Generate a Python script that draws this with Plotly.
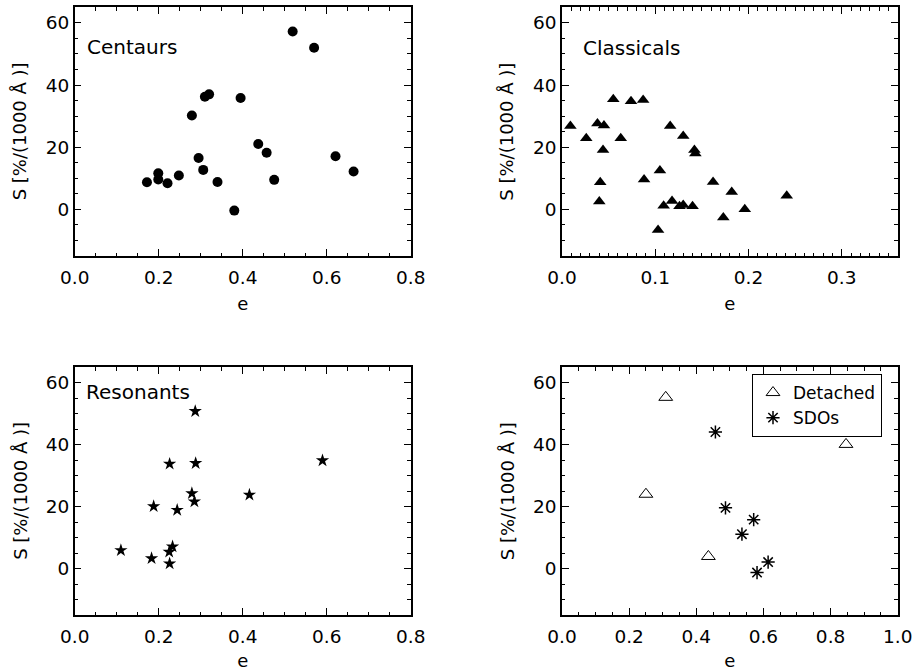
import plotly.graph_objects as go

# ---- data ----
cen_e = [0.172, 0.199, 0.199, 0.221, 0.248, 0.279, 0.295, 0.306, 0.310, 0.320,
         0.340, 0.380, 0.395, 0.437, 0.457, 0.475, 0.519, 0.570, 0.621, 0.664]
cen_s = [8.7, 11.6, 9.6, 8.4, 10.9, 30.2, 16.5, 12.7, 36.2, 37.0,
         8.8, -0.4, 35.8, 21.0, 18.2, 9.5, 57.2, 52.0, 17.1, 12.2]

cla_e = [0.009, 0.026, 0.038, 0.045, 0.044, 0.041, 0.040, 0.055, 0.063, 0.074,
         0.087, 0.088, 0.105, 0.103, 0.109, 0.116, 0.118, 0.126, 0.130, 0.130,
         0.140, 0.142, 0.143, 0.162, 0.173, 0.182, 0.196, 0.241]
cla_s = [26.8, 22.9, 27.6, 27.0, 19.1, 8.7, 2.5, 35.4, 22.9, 34.8,
         35.2, 9.6, 12.5, -6.6, 1.2, 26.8, 2.7, 1.0, 23.6, 1.4,
         1.0, 19.1, 18.0, 8.8, -2.6, 5.6, 0.0, 4.4]

res_e = [0.110, 0.183, 0.188, 0.226, 0.225, 0.233, 0.226, 0.244, 0.279, 0.285,
         0.287, 0.288, 0.416, 0.590]
res_s = [5.9, 3.3, 20.1, 33.8, 5.4, 7.1, 1.6, 18.9, 24.3, 21.6,
         50.8, 34.0, 23.8, 34.9]

det_e = [0.250, 0.309, 0.436, 0.846]
det_s = [24.0, 55.3, 3.9, 40.1]

sdo_e = [0.457, 0.487, 0.536, 0.571, 0.581, 0.614]
sdo_s = [44.1, 19.6, 11.1, 15.8, -1.3, 2.1]

panel_labels = ["Centaurs", "Classicals", "Resonants"]
x_title = "e"
y_title = "S [%/(1000 Å )]"

FONT = "DejaVu Sans"
W, H = 912, 671

fig = go.Figure()

fig.add_trace(go.Scatter(x=cen_e, y=cen_s, mode="markers", name="Centaurs",
                         marker=dict(symbol="circle", size=10, color="black"),
                         xaxis="x", yaxis="y", showlegend=False))
fig.add_trace(go.Scatter(x=cla_e, y=cla_s, mode="markers", name="Classicals",
                         marker=dict(symbol="triangle-up", size=11, color="black"),
                         xaxis="x2", yaxis="y2", showlegend=False))
fig.add_trace(go.Scatter(x=res_e, y=res_s, mode="markers", name="Resonants",
                         marker=dict(symbol="star", size=10, color="black"),
                         xaxis="x3", yaxis="y3", showlegend=False))
fig.add_trace(go.Scatter(x=det_e, y=det_s, mode="markers", name="Detached",
                         marker=dict(symbol="triangle-up-open", size=12, color="black",
                                     line=dict(width=1, color="black")),
                         xaxis="x4", yaxis="y4"))
fig.add_trace(go.Scatter(x=sdo_e, y=sdo_s, mode="markers", name="SDOs",
                         marker=dict(symbol="asterisk-open", size=11, color="black",
                                     line=dict(width=1.5, color="black")),
                         xaxis="x4", yaxis="y4"))

# pixel boxes of the four plot areas (left, right, top, bottom)
boxes = [(74.7, 410.7, 7.3, 256.0),
         (562.0, 897.7, 7.3, 256.0),
         (74.7, 410.7, 367.3, 615.0),
         (562.0, 897.7, 367.3, 615.0)]
xranges = [[0, 0.8], [0, 0.36], [0, 0.8], [0, 1.0]]
xdticks = [0.2, 0.1, 0.2, 0.2]
xminor = [0.05, 0.01, 0.05, 0.05]

tick_font = dict(family=FONT, size=18.5, color="black")
title_font = dict(family=FONT, size=18, color="black")

layout = dict(width=W, height=H, margin=dict(l=0, r=0, t=0, b=0, autoexpand=False),
              paper_bgcolor="white", plot_bgcolor="white",
              font=dict(family=FONT, color="black"))

for i, (l, r, t, b) in enumerate(boxes):
    sfx = "" if i == 0 else str(i + 1)
    xd = [l / W, r / W]
    yd = [1 - b / H, 1 - t / H]
    common = dict(showline=True, linewidth=1.5, linecolor="black", mirror="ticks",
                  ticks="inside", ticklen=7, tickwidth=1.3, tickcolor="black",
                  showgrid=False, zeroline=False, tickfont=tick_font, automargin=False)
    layout["xaxis" + sfx] = dict(common, domain=xd, range=xranges[i], dtick=xdticks[i],
                                 tick0=0, tickformat=".1f", ticklabelstandoff=4,
                                 ticklabeloverflow="allow",
                                 anchor="y" + sfx,
                                 minor=dict(dtick=xminor[i], ticks="inside", ticklen=3.5,
                                            tickwidth=1.1, tickcolor="black", showgrid=False),
                                 title=dict(text=x_title, font=title_font, standoff=10))
    layout["yaxis" + sfx] = dict(common, domain=yd, range=[-15, 65], dtick=20, tick0=0,
                                 anchor="x" + sfx,
                                 minor=dict(dtick=5, ticks="inside", ticklen=3.5,
                                            tickwidth=1.1, tickcolor="black", showgrid=False))

layout["legend"] = dict(x=882 / W, y=1 - 374 / H, xanchor="right", yanchor="top",
                        bgcolor="rgba(255,255,255,0)", bordercolor="black", borderwidth=1,
                        font=dict(family=FONT, size=17, color="black"),
                        tracegroupgap=0, itemwidth=30)

fig.update_layout(**layout)

# y-axis titles, placed 55 px left of each axis line
for i, (l, r, t, b) in enumerate(boxes):
    fig.add_annotation(text=y_title, xref="paper", yref="paper",
                       x=(l - 55) / W, y=1 - (t + b) / 2 / H,
                       xanchor="center", yanchor="middle", textangle=-90,
                       showarrow=False, font=title_font)

label_pos = [(0.031, 0.84), (0.057, 0.835), (0.028, 0.902)]
for i, txt in enumerate(panel_labels):
    sfx = "" if i == 0 else str(i + 1)
    fig.add_annotation(text=txt, xref="x" + sfx + " domain", yref="y" + sfx + " domain",
                       x=label_pos[i][0], y=label_pos[i][1], xanchor="left", yanchor="middle",
                       showarrow=False, font=dict(family=FONT, size=20, color="black"))

fig.write_html("out.html")
